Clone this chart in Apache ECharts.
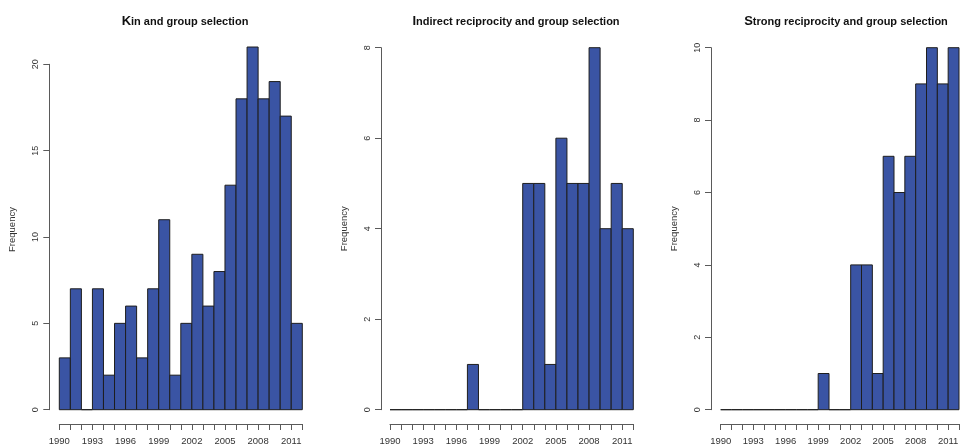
<!DOCTYPE html>
<html>
<head>
<meta charset="utf-8">
<script src="https://cdn.jsdelivr.net/npm/echarts@6/dist/echarts.min.js"></script>
<style>
	html, body { margin: 0; padding: 0; background: #fff; }
	#chart { width: 962px; height: 446px; }
</style>
</head>
<body>
<div id="chart"></div>
<script>
	// yearly bins, 1990 .. 2011 (each bin covers one year)
	const firstYear = 1990
	const lastYear = 2012
	const kinCounts = [3, 7, 0, 7, 2, 5, 6, 3, 7, 11, 2, 5, 9, 6, 8, 13, 18, 21, 18, 19, 17, 5]
	const indirectCounts = [0, 0, 0, 0, 0, 0, 0, 1, 0, 0, 0, 0, 5, 5, 1, 6, 5, 5, 8, 4, 5, 4]
	const strongCounts = [0, 0, 0, 0, 0, 0, 0, 0, 0, 1, 0, 0, 4, 4, 1, 7, 6, 7, 9, 10, 9, 10]
	const titles = ['Kin and group selection', 'Indirect reciprocity and group selection', 'Strong reciprocity and group selection']
	const yMax = [20, 8, 10]
	const yStep = [5, 2, 2]

	const chart = echarts.init(document.getElementById('chart'))
	const axisColor = '#5a5a5a'
	const textColor = '#333'
	const barColor = '#3a54a4'

	// plot boxes (pixel layout only)
	const boxes = [
		{ left: 59.3, top: 64.3, width: 243, axisOffset: 10, titleX: 180, nameShift: 15 },
		{ left: 390, top: 47.7, width: 243.3, axisOffset: 9, titleX: 511, nameShift: 0 },
		{ left: 720.7, top: 47.7, width: 243, axisOffset: 9.7, titleX: 841, nameShift: 0 }
	]
	const baseline = 409.7

	function toBins(counts) {
		return counts.map((v, i) => [firstYear + i, firstYear + i + 1, v])
	}

	function renderBar(params, api) {
		const p0 = api.coord([api.value(0), api.value(2)])
		const p1 = api.coord([api.value(1), 0])
		return {
			type: 'rect',
			shape: { x: p0[0], y: p0[1], width: p1[0] - p0[0], height: p1[1] - p0[1] },
			style: { fill: barColor, stroke: '#1e1e1e', lineWidth: 1 }
		}
	}

	const allCounts = [kinCounts, indirectCounts, strongCounts]

	let option = {
		animation: false,
		backgroundColor: '#fff',
		textStyle: { fontFamily: 'Liberation Sans, Arial, sans-serif' },
		title: titles.map((t, i) => ({
			text: '{a|' + t.charAt(0) + '}{b|' + t.slice(1) + '}',
			left: boxes[i].titleX,
			top: 10,
			textAlign: 'center',
			textStyle: {
				rich: {
					a: { fontSize: 13, fontWeight: 'bold', color: '#111', fontFamily: 'Liberation Sans' },
					b: { fontSize: 11, fontWeight: 'bold', color: '#111', fontFamily: 'Liberation Sans' }
				}
			}
		})),
		grid: boxes.map(b => ({
			left: b.left,
			top: b.top,
			width: b.width,
			height: baseline - b.top
		})),
		xAxis: boxes.map((b, i) => ({
			type: 'value',
			gridIndex: i,
			min: firstYear,
			max: lastYear,
			interval: 1,
			offset: 14.3,
			axisLine: { show: true, onZero: false, lineStyle: { color: axisColor, width: 1 } },
			axisTick: { show: true, length: 6, lineStyle: { color: axisColor } },
			axisLabel: {
				color: textColor,
				fontSize: 9.5,
				margin: 12,
				showMinLabel: true,
				showMaxLabel: true,
				formatter: v => ((v - firstYear) % 3 === 0 ? String(v) : '')
			},
			splitLine: { show: false }
		})),
		yAxis: boxes.map((b, i) => ({
			type: 'value',
			gridIndex: i,
			min: 0,
			max: yMax[i],
			interval: yStep[i],
			offset: b.axisOffset,
			name: 'Frequency',
			nameLocation: 'middle',
			nameRotate: 90,
			nameGap: 32,
			nameTextStyle: { color: textColor, fontSize: 9.5, padding: [0, 0, 0, b.nameShift] },
			axisLine: { show: true, onZero: false, lineStyle: { color: axisColor, width: 1 } },
			axisTick: { show: true, length: 6, lineStyle: { color: axisColor } },
			axisLabel: { color: textColor, fontSize: 9, rotate: 90, margin: 9 },
			splitLine: { show: false }
		})),
		series: allCounts.map((c, i) => ({
			type: 'custom',
			xAxisIndex: i,
			yAxisIndex: i,
			clip: false,
			renderItem: renderBar,
			encode: { x: [0, 1], y: 2 },
			data: toBins(c)
		}))
	}

	chart.setOption(option)
</script>
</body>
</html>
